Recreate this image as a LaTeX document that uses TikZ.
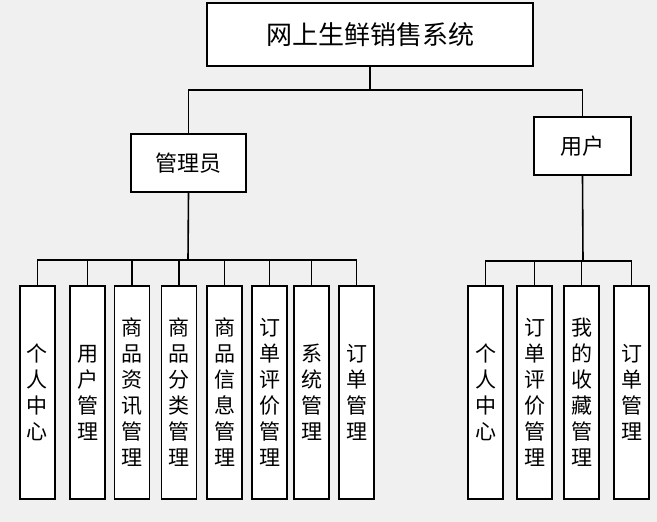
\documentclass[tikz,border=0pt]{standalone}
\usepackage{fontspec}
\newfontfamily\cjk{Noto Sans CJK SC}
\definecolor{bggray}{HTML}{F0F0F0}
\tikzset{
	box/.style={draw,line width=1.6pt,fill=white,inner sep=0pt,font=\cjk},
	leaf/.style={box,minimum width=35pt,minimum height=213pt,align=center,font=\cjk\fontsize{21}{26}\selectfont},
	link/.style={line width=1.6pt}
}
\begin{document}
\begin{tikzpicture}[x=1pt,y=-1pt]
	\fill[bggray] (0,0) rectangle (657,522);
	\useasboundingbox (0,0) rectangle (657,522);
	
	\node[box,minimum width=326pt,minimum height=63pt,font=\cjk\fontsize{26}{30}\selectfont] (root) at (370,34.5) {网上生鲜销售系统};
	\node[box,minimum width=115pt,minimum height=58pt,font=\cjk\fontsize{22}{26}\selectfont] (admin) at (188.5,163) {管理员};
	\node[box,minimum width=97pt,minimum height=58pt,font=\cjk\fontsize{22}{26}\selectfont] (user) at (582.5,146) {用户};
	
	\coordinate (topbus) at (370,90);
	\coordinate (abus) at (188,260);
	\coordinate (ubus) at (583,261);
	
	\draw[link] (root.south) -- (topbus) -| (admin.north);
	\draw[link] (topbus) -| (user.north);
	\draw[link] (admin.south) -- (abus);
	\draw[link] (user.south) -- (ubus);
	
	\foreach \i/\x/\t in {1/37.5/{个\\人\\中\\心},2/87.5/{用\\户\\管\\理},3/132/{商\\品\\资\\讯\\管\\理},4/179/{商\\品\\分\\类\\管\\理},5/224.5/{商\\品\\信\\息\\管\\理},6/269.5/{订\\单\\评\\价\\管\\理},7/311.5/{系\\统\\管\\理},8/356.5/{订\\单\\管\\理}}{
		\node[leaf] (a\i) at (\x,392.5) {\t};
		\draw[link] (abus) -| (a\i.north);
	}
	
	\foreach \i/\x/\t in {1/485.5/{个\\人\\中\\心},2/534.5/{订\\单\\评\\价\\管\\理},3/581.5/{我\\的\\收\\藏\\管\\理},4/631.5/{订\\单\\管\\理}}{
		\node[leaf] (u\i) at (\x,392.5) {\t};
		\draw[link] (ubus) -| (u\i.north);
	}
\end{tikzpicture}
\end{document}
